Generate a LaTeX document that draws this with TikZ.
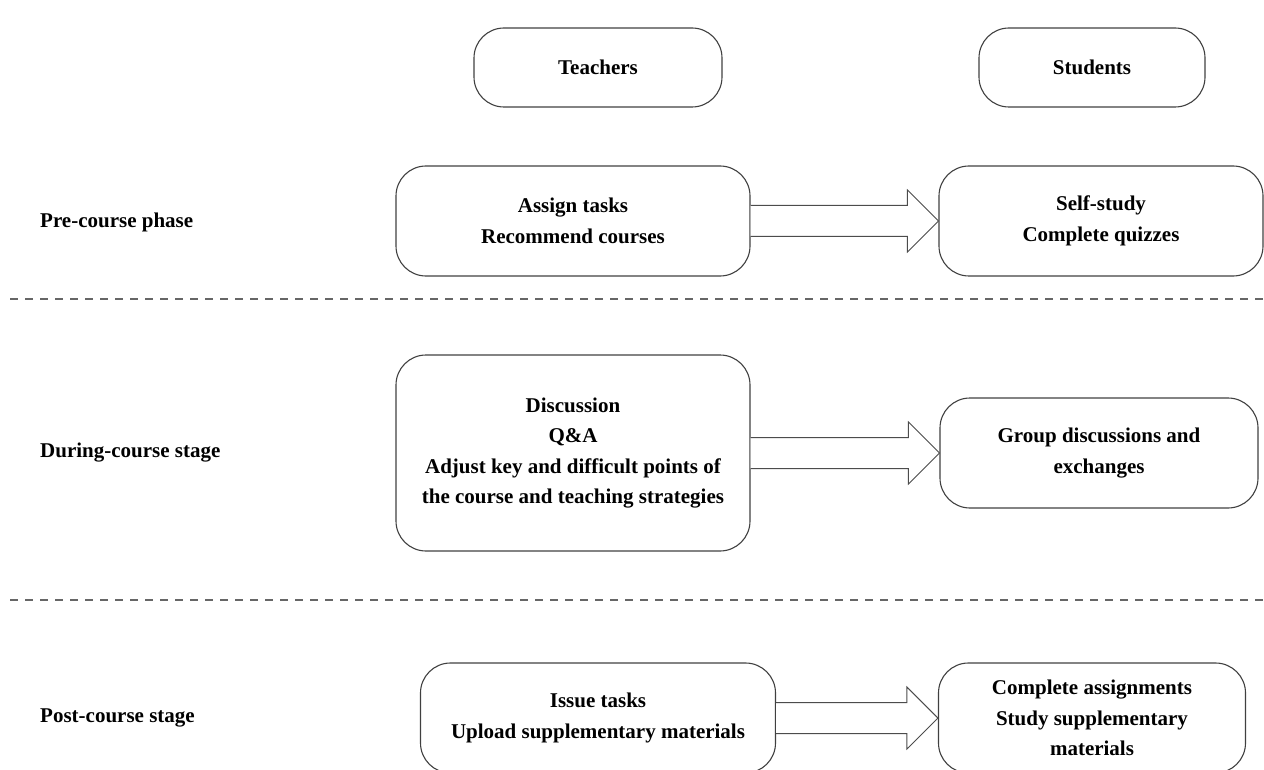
\documentclass[tikz,border=0pt]{standalone}
\usepackage{fontspec}
\setmainfont{Liberation Serif}
\usetikzlibrary{calc}

\tikzset{
  stagebox/.style={draw=black!75, line width=1.1pt, rounded corners=30pt,
    align=center, inner sep=0pt},
  phase/.style={anchor=west, inner sep=0pt},
  blockarrow/.style={draw=black!70, line width=1pt, fill=white},
  divider/.style={draw=black!60, line width=1.2pt, dash pattern=on 8pt off 7pt}
}

\newcommand{\blockarr}[2]{%
  \draw[blockarrow] ($(#1.east)+(0,15.5)$) -- ($(#2.west)+(-31,15.5)$)
    -- ($(#2.west)+(-31,31)$) -- (#2.west) -- ($(#2.west)+(-31,-31)$)
    -- ($(#2.west)+(-31,-15.5)$) -- ($(#1.east)+(0,-15.5)$);}

\begin{document}
\begin{tikzpicture}[x=1pt, y=-1pt,
    every node/.style={font=\fontsize{21}{30.5}\selectfont\bfseries}]
  \clip (0,0) rectangle (1264,770);
  \useasboundingbox (0,0) rectangle (1264,770);

  \node[stagebox, minimum width=248, minimum height=79] (teach) at (598,67.5) {Teachers};
  \node[stagebox, minimum width=226, minimum height=79] (stud) at (1092,67.5) {Students};

  \node[phase] (pre) at (40,222) {Pre-course phase};
  \node[stagebox, minimum width=354, minimum height=110] (preT) at (573,221)
    {Assign tasks\\Recommend courses};
  \node[stagebox, minimum width=324, minimum height=110] (preS) at (1101,221)
    {Self-study\\Complete quizzes};
  \blockarr{preT}{preS}

  \draw[divider] (10,299) -- (1264,299);

  \node[phase] (during) at (40,453) {During-course stage};
  \node[stagebox, minimum width=354, minimum height=196] (durT) at (573,453)
    {Discussion\\Q\&A\\Adjust key and difficult points of\\the course and teaching strategies};
  \node[stagebox, minimum width=318, minimum height=110] (durS) at (1099,453)
    {Group discussions and\\exchanges};
  \blockarr{durT}{durS}

  \draw[divider] (10,600) -- (1264,600);

  \node[phase] (post) at (40,718) {Post-course stage};
  \node[stagebox, minimum width=355, minimum height=110] (postT) at (598,718)
    {Issue tasks\\Upload supplementary materials};
  \node[stagebox, minimum width=307, minimum height=110] (postS) at (1092,718)
    {Complete assignments\\Study supplementary\\materials};
  \blockarr{postT}{postS}
\end{tikzpicture}
\end{document}
